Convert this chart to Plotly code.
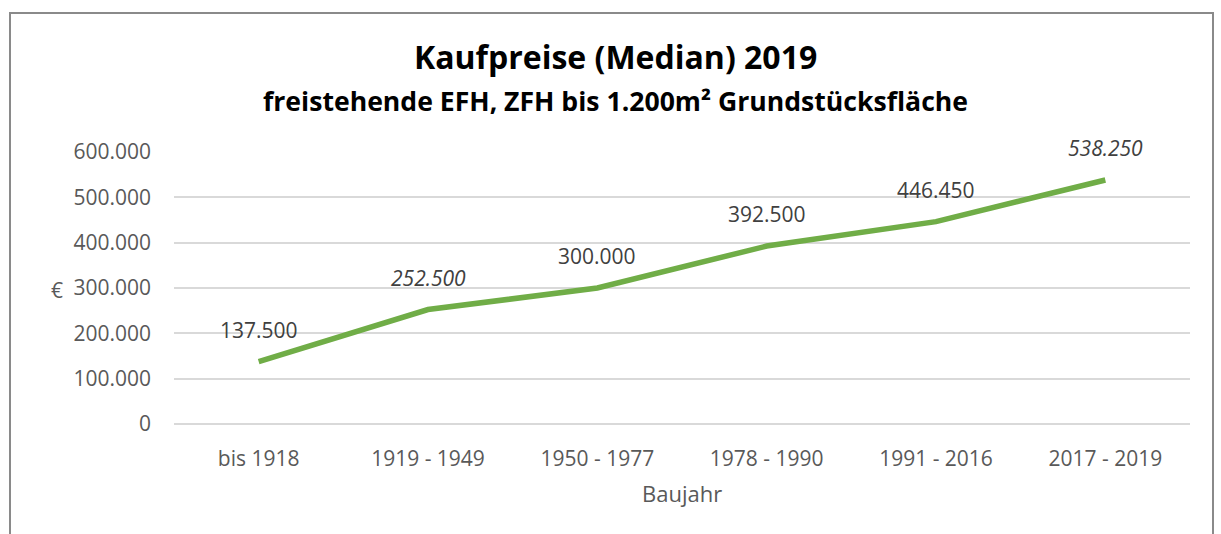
import plotly.graph_objects as go

categories = ["bis 1918", "1919 - 1949", "1950 - 1977", "1978 - 1990", "1991 - 2016", "2017 - 2019"]
prices = [137500, 252500, 300000, 392500, 446450, 538250]
label_italic = [False, True, False, False, False, True]
y_ticks = [0, 100000, 200000, 300000, 400000, 500000, 600000]
y_tick_text = ["0", "100.000", "200.000", "300.000", "400.000", "500.000", "600.000"]

W, H = 1221, 534
L, R, T, B = 174, 31, 152, 110
FONT = "Open Sans"
TEXT_SIZE = 21


def de_format(v):
    return f"{v:,}".replace(",", ".")


fig = go.Figure()
fig.add_trace(go.Scatter(
    x=categories, y=prices, mode="lines",
    line=dict(color="#70AD47", width=5.5),
    hoverinfo="skip", showlegend=False,
))

annotations = []
for cat, val, it in zip(categories, prices, label_italic):
    annotations.append(dict(
        x=cat, y=val, xref="x", yref="y", text=de_format(val), showarrow=False,
        yshift=32, font=dict(family=FONT, size=TEXT_SIZE, color="#404040",
                             style="italic" if it else "normal"),
    ))

plot_w = W - L - R
plot_h = H - T - B


def px_x(p):
    return (p - L) / plot_w


def px_y(p):
    return (H - B - p) / plot_h


annotations += [
    dict(x=px_x(615), y=px_y(57), xref="paper", yref="paper", showarrow=False,
         text="<b>Kaufpreise (Median) 2019</b>", xanchor="center", yanchor="middle",
         font=dict(family=FONT, size=32, color="#000000")),
    dict(x=px_x(615), y=px_y(101), xref="paper", yref="paper", showarrow=False,
         text="<b>freistehende EFH, ZFH bis 1.200m² Grundstücksfläche</b>",
         xanchor="center", yanchor="middle",
         font=dict(family=FONT, size=26.6, color="#000000")),
    dict(x=px_x(57), y=px_y(290), xref="paper", yref="paper", showarrow=False,
         text="€", xanchor="center", yanchor="middle",
         font=dict(family=FONT, size=TEXT_SIZE, color="#595959")),
    dict(x=px_x(682), y=px_y(493), xref="paper", yref="paper", showarrow=False,
         text="Baujahr", xanchor="center", yanchor="middle",
         font=dict(family=FONT, size=22, color="#595959")),
]

fig.update_layout(
    width=W, height=H,
    margin=dict(l=L, r=R, t=T, b=B, pad=0),
    paper_bgcolor="white", plot_bgcolor="white",
    annotations=annotations,
    shapes=[dict(type="rect", xref="paper", yref="paper",
                 x0=px_x(10), x1=px_x(1213), y0=px_y(560), y1=px_y(13),
                 line=dict(color="#8a8a8a", width=2), fillcolor="rgba(0,0,0,0)",
                 layer="below")],
)
fig.update_xaxes(
    type="category", range=[-0.5, 5.5], showgrid=False, zeroline=False, showline=False,
    ticks="", ticklabelstandoff=20,
    tickfont=dict(family=FONT, size=TEXT_SIZE, color="#595959"),
)
fig.update_yaxes(
    range=[0, 600000], tickvals=y_ticks, ticktext=y_tick_text,
    showgrid=True, gridcolor="#d9d9d9", gridwidth=2,
    zeroline=True, zerolinecolor="#d9d9d9", zerolinewidth=2, showline=False,
    ticks="", ticklabelstandoff=22,
    tickfont=dict(family=FONT, size=TEXT_SIZE, color="#595959"),
)

fig.write_html("out.html")
